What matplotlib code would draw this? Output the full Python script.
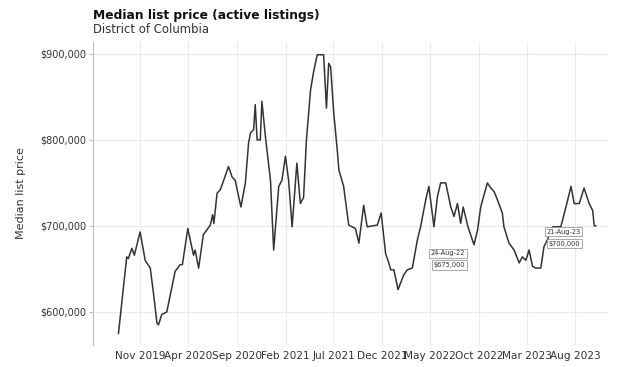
import matplotlib
matplotlib.use("Agg")
import matplotlib.pyplot as plt
import pandas as pd

dates = ["2019-08-25", "2019-09-20", "2019-09-25", "2019-10-06", "2019-10-14", "2019-11-01",
         "2019-11-17", "2019-12-03", "2019-12-13", "2019-12-24", "2019-12-29", "2020-01-08",
         "2020-01-24", "2020-02-04", "2020-02-19", "2020-03-06", "2020-03-13", "2020-03-30",
         "2020-04-17", "2020-04-22", "2020-05-03", "2020-05-18", "2020-06-09", "2020-06-16",
         "2020-06-20", "2020-06-30", "2020-07-10", "2020-07-18", "2020-08-05", "2020-08-16",
         "2020-08-26", "2020-09-13", "2020-09-27", "2020-10-07", "2020-10-13", "2020-10-23",
         "2020-10-28", "2020-11-03", "2020-11-13", "2020-11-18", "2020-11-29", "2020-12-15",
         "2020-12-25", "2021-01-10", "2021-01-20", "2021-01-31", "2021-02-10", "2021-02-21",
         "2021-03-08", "2021-03-19", "2021-03-29", "2021-04-07", "2021-04-20", "2021-04-30",
         "2021-05-11", "2021-05-31", "2021-06-09", "2021-06-16", "2021-06-22", "2021-07-02",
         "2021-07-13", "2021-07-18", "2021-08-02", "2021-08-18", "2021-09-08", "2021-09-19",
         "2021-10-04", "2021-10-15", "2021-11-16", "2021-11-28", "2021-12-12", "2021-12-22",
         "2021-12-28", "2022-01-07", "2022-01-20", "2022-02-07", "2022-02-18", "2022-03-06",
         "2022-03-22", "2022-04-01", "2022-04-17", "2022-04-27", "2022-05-13", "2022-05-24",
         "2022-06-03", "2022-06-19", "2022-07-05", "2022-07-15", "2022-07-26", "2022-08-05",
         "2022-08-13", "2022-08-28", "2022-09-16", "2022-09-27", "2022-10-07", "2022-10-28",
         "2022-11-08", "2022-11-18", "2022-11-29", "2022-12-14", "2022-12-19", "2023-01-04",
         "2023-01-20", "2023-02-05", "2023-02-15", "2023-02-26", "2023-03-08", "2023-03-19",
         "2023-03-29", "2023-04-14", "2023-04-24", "2023-05-05", "2023-05-21", "2023-06-16",
         "2023-07-02", "2023-07-18", "2023-07-28", "2023-08-13", "2023-08-28", "2023-09-13",
         "2023-09-24", "2023-09-29", "2023-10-04"]

prices = [575, 664, 662, 674, 666, 693,
          660, 651, 622, 587, 585, 597,
          600, 620, 647, 655, 655, 697,
          666, 672, 651, 690, 701, 713,
          703, 738, 742, 750, 769, 757,
          753, 722, 750, 796, 808, 812,
          841, 800, 800, 845, 804, 753,
          672, 746, 753, 781, 753, 699,
          773, 726, 733, 800, 858, 880,
          899, 899, 837, 889, 885, 831,
          788, 765, 746, 701, 697, 680,
          724, 699, 701, 715, 668, 657,
          649, 649, 626, 643, 649, 651,
          684, 699, 730, 746, 699, 734,
          750, 750, 722, 711, 726, 703,
          722, 699, 678, 695, 722, 750,
          744, 740, 730, 715, 699, 680,
          672, 657, 664, 660, 672, 653,
          651, 651, 676, 684, 699, 699,
          722, 746, 726, 726, 744, 726,
          718, 700, 700]
prices = [p * 1000 for p in prices]

tick_dates = ["2019-11-01", "2020-04-01", "2020-09-01", "2021-02-01", "2021-07-01",
              "2021-12-01", "2022-05-01", "2022-10-01", "2023-03-01", "2023-08-01"]
tick_labels = ["Nov 2019", "Apr 2020", "Sep 2020", "Feb 2021", "Jul 2021",
               "Dec 2021", "May 2022", "Oct 2022", "Mar 2023", "Aug 2023"]
y_ticks = [600000, 700000, 800000, 900000]

ann_dates = ["2022-08-24", "2023-08-21"]
ann_values = [675000, 700000]
ann_labels = ["24-Aug-22", "21-Aug-23"]

x = pd.to_datetime(dates)

fig = plt.figure(figsize=(6.26, 3.67), dpi=100)
ax = fig.add_axes([0.1486, 0.060, 0.822, 0.826])

ax.plot(x, prices, color="#333333", linewidth=1.1)

ax.set_xlim(pd.Timestamp("2019-06-06"), pd.Timestamp("2023-11-10"))
ax.set_ylim(561600, 914000)

ax.set_xticks(pd.to_datetime(tick_dates))
ax.set_xticklabels(tick_labels, fontsize=7.6, color="#333333")
ax.set_yticks(y_ticks)
ax.set_yticklabels([f"${v:,.0f}" for v in y_ticks], fontsize=7.0, color="#333333")

ax.grid(True, color="#ebebeb", linewidth=0.8)
ax.set_axisbelow(True)
for s in ["top", "right", "bottom"]:
    ax.spines[s].set_visible(False)
ax.spines["left"].set_color("#bbbbbb")
ax.tick_params(axis="x", length=0, pad=4)
ax.tick_params(axis="y", length=3, color="#bbbbbb", pad=2)

ax.set_ylabel("Median list price", fontsize=8, color="#333333", labelpad=10)

fig.text(0.1486, 0.958, "Median list price (active listings)", fontsize=8.8,
         fontweight="bold", ha="left", va="center", color="#111111")
fig.text(0.1486, 0.920, "District of Columbia", fontsize=8.4, ha="left",
         va="center", color="#333333")

for d, v, lab in zip(ann_dates, ann_values, ann_labels):
    dt = pd.Timestamp(d)
    bbox = dict(boxstyle="square,pad=0.25", fc="white", ec="#888888", lw=0.5)
    ax.annotate(lab, (dt, v), xytext=(-1, -2), textcoords="offset points",
                ha="right", va="top", fontsize=4.8, color="#333333", bbox=bbox)
    ax.annotate(f"${v:,.0f}", (dt, v), xytext=(-1, -10.5), textcoords="offset points",
                ha="right", va="top", fontsize=4.8, color="#333333", bbox=bbox)

fig.savefig("out.png", dpi=100, facecolor="white")
